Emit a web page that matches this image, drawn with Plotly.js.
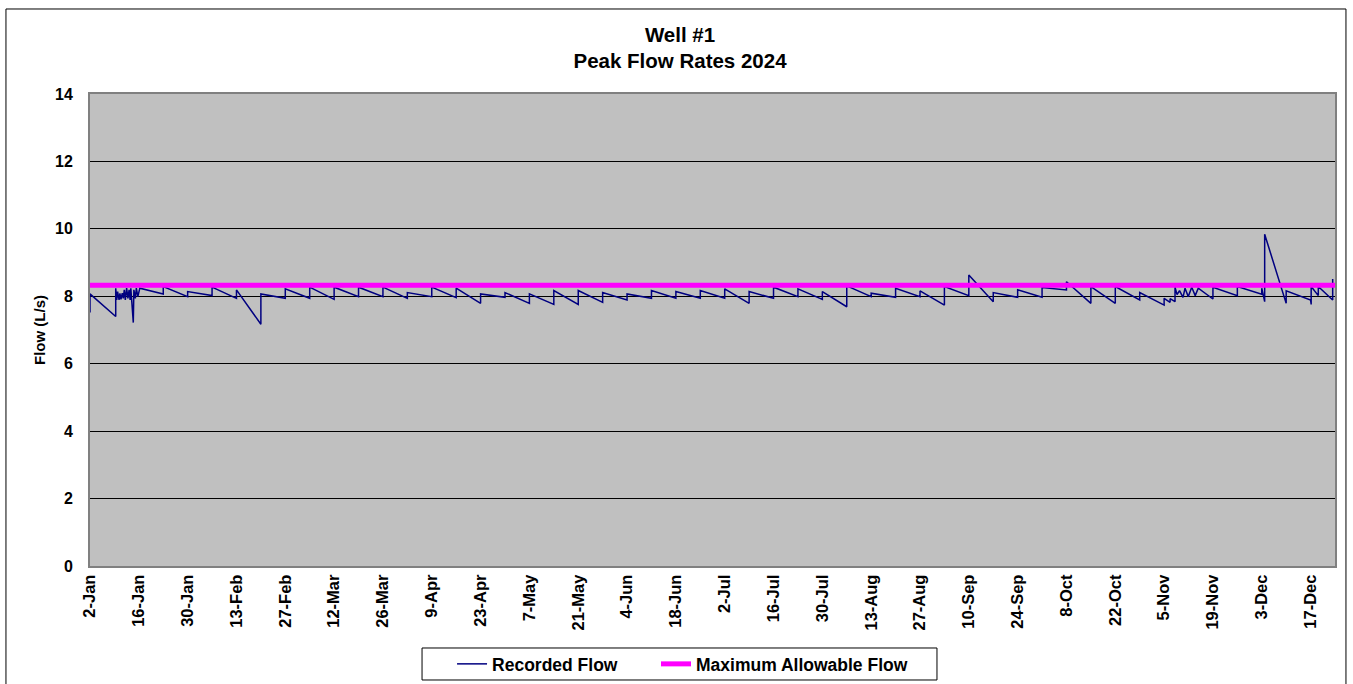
<!DOCTYPE html>
<html>
<head>
<meta charset="utf-8">
<script src="https://cdn.plot.ly/plotly-3.0.1.min.js"></script>
<style>
  html, body { margin: 0; padding: 0; background: #ffffff; }
  #chart { width: 1353px; height: 684px; }
</style>
</head>
<body>
<div id="chart"></div>
<script>
// ---- Data ----
const recordedDates = [
  '2024-01-02 00:00','2024-01-02 00:00',
  '2024-01-09 09:00','2024-01-09 09:00','2024-01-09 16:00','2024-01-09 22:00',
  '2024-01-10 08:00','2024-01-10 14:00','2024-01-10 21:00',
  '2024-01-11 06:00','2024-01-11 13:00','2024-01-11 20:00',
  '2024-01-12 03:00','2024-01-12 12:00','2024-01-12 21:00',
  '2024-01-13 05:00','2024-01-13 12:00','2024-01-13 17:00',
  '2024-01-14 10:00','2024-01-14 14:00',
  '2024-01-15 00:00','2024-01-15 07:00','2024-01-15 17:00',
  '2024-01-16 00:00','2024-01-16 07:00',
  '2024-01-23','2024-01-23','2024-01-30','2024-01-30',
  '2024-02-06','2024-02-06','2024-02-13','2024-02-13','2024-02-20','2024-02-20','2024-02-27','2024-02-27',
  '2024-03-05','2024-03-05','2024-03-12','2024-03-12','2024-03-19','2024-03-19','2024-03-26','2024-03-26',
  '2024-04-02','2024-04-02','2024-04-09','2024-04-09','2024-04-16','2024-04-16','2024-04-23','2024-04-23','2024-04-30','2024-04-30',
  '2024-05-07','2024-05-07','2024-05-14','2024-05-14','2024-05-21','2024-05-21','2024-05-28','2024-05-28',
  '2024-06-04','2024-06-04','2024-06-11','2024-06-11','2024-06-18','2024-06-18','2024-06-25','2024-06-25',
  '2024-07-02','2024-07-02','2024-07-09','2024-07-09','2024-07-16','2024-07-16','2024-07-23','2024-07-23','2024-07-30','2024-07-30',
  '2024-08-06','2024-08-06','2024-08-13','2024-08-13','2024-08-20','2024-08-20','2024-08-27','2024-08-27',
  '2024-09-03','2024-09-03','2024-09-10','2024-09-10','2024-09-17','2024-09-17','2024-09-24','2024-09-24',
  '2024-10-01','2024-10-01','2024-10-08','2024-10-08','2024-10-15','2024-10-15','2024-10-22','2024-10-22','2024-10-29','2024-10-29',
  '2024-11-05','2024-11-05','2024-11-06 17:00','2024-11-06 17:00','2024-11-08 03:00','2024-11-08 03:00',
  '2024-11-08 17:00','2024-11-09 10:00','2024-11-10 10:00','2024-11-11 00:00','2024-11-11 22:00',
  '2024-11-12 22:00','2024-11-13 22:00','2024-11-14 19:00',
  '2024-11-19','2024-11-19','2024-11-26','2024-11-26',
  '2024-12-03 00:00','2024-12-03 00:00','2024-12-03 20:00','2024-12-03 20:00',
  '2024-12-10','2024-12-10','2024-12-17 00:00','2024-12-17 00:00','2024-12-17 04:00','2024-12-17 04:00',
  '2024-12-19 05:00','2024-12-19 05:00','2024-12-23 08:00','2024-12-23 08:00'
];
const recordedFlow = [
  7.52, 8.07,
  7.40, 8.24, 7.89, 8.14,
  7.89, 8.09, 7.91,
  8.09, 7.94, 8.19,
  7.89, 8.24, 7.94,
  8.19, 7.89, 8.24,
  7.22, 8.19,
  7.94, 8.24, 7.99,
  8.09, 8.24,
  8.07, 8.29, 7.99, 8.14,
  8.02, 8.27, 7.94, 8.19, 7.17, 8.07, 7.94, 8.22,
  7.94, 8.27, 7.91, 8.27, 7.99, 8.27, 7.99, 8.27,
  7.94, 8.11, 7.99, 8.27, 7.96, 8.24, 7.79, 8.07, 7.97, 8.11,
  7.79, 8.07, 7.76, 8.17, 7.76, 8.17, 7.82, 8.11,
  7.89, 8.07, 7.94, 8.17, 7.94, 8.14, 7.94, 8.17,
  7.94, 8.22, 7.79, 8.14, 7.94, 8.27, 7.99, 8.22, 7.91, 8.14,
  7.69, 8.31, 7.99, 8.09, 7.97, 8.24, 7.99, 8.16,
  7.74, 8.29, 8.02, 8.63, 7.84, 8.11, 7.97, 8.19,
  7.97, 8.26, 8.19, 8.43, 7.79, 8.29, 7.79, 8.29, 7.89, 8.11,
  7.74, 7.94, 7.82, 7.93, 7.84, 8.27,
  8.05, 8.17, 7.97, 8.24, 7.99,
  8.27, 8.02, 8.24,
  7.92, 8.27, 8.02, 8.29,
  8.06, 8.24, 7.84, 9.84,
  7.79, 8.16, 7.89, 8.19, 7.76, 8.29,
  8.02, 8.29, 7.89, 8.51
];
const maxDates = ['2024-01-02', '2024-12-24'];
const maxFlow = [8.33, 8.33];

const tickDates = ['2024-01-02','2024-01-16','2024-01-30','2024-02-13','2024-02-27','2024-03-12','2024-03-26',
  '2024-04-09','2024-04-23','2024-05-07','2024-05-21','2024-06-04','2024-06-18','2024-07-02','2024-07-16',
  '2024-07-30','2024-08-13','2024-08-27','2024-09-10','2024-09-24','2024-10-08','2024-10-22','2024-11-05',
  '2024-11-19','2024-12-03','2024-12-17'];
const tickLabels = ['2-Jan','16-Jan','30-Jan','13-Feb','27-Feb','12-Mar','26-Mar','9-Apr','23-Apr','7-May',
  '21-May','4-Jun','18-Jun','2-Jul','16-Jul','30-Jul','13-Aug','27-Aug','10-Sep','24-Sep','8-Oct','22-Oct',
  '5-Nov','19-Nov','3-Dec','17-Dec'];
const yTicks = [0, 2, 4, 6, 8, 10, 12, 14];

const FONT = 'Liberation Sans, Arial, sans-serif';

const traces = [
  {
    x: recordedDates, y: recordedFlow, type: 'scatter', mode: 'lines',
    name: 'Recorded Flow', legend: 'legend',
    line: { color: '#000080', width: 1.5 }
  },
  {
    x: maxDates, y: maxFlow, type: 'scatter', mode: 'lines',
    name: 'Maximum Allowable Flow', legend: 'legend2',
    line: { color: '#FF00FF', width: 5 }
  }
];

const legendCommon = {
  orientation: 'h',
  xanchor: 'left',
  y: -0.2076, yanchor: 'middle',
  bgcolor: 'rgba(0,0,0,0)', borderwidth: 0,
  font: { family: FONT, size: 17.5, color: '#000', weight: 'bold' },
  itemwidth: 30
};

const layout = {
  width: 1353, height: 684,
  margin: { l: 90, r: 18, t: 94, b: 118, autoexpand: false },
  paper_bgcolor: '#ffffff',
  plot_bgcolor: '#C0C0C0',
  showlegend: true,
  title: {
    text: 'Well #1<br>Peak Flow Rates 2024',
    font: { family: FONT, size: 20.5, color: '#000', weight: 'bold' },
    x: 0.5026, xref: 'container', xanchor: 'center',
    y: 0.939, yref: 'container', yanchor: 'top'
  },
  xaxis: {
    type: 'date',
    range: ['2024-01-02', '2024-12-24'],
    tickvals: tickDates, ticktext: tickLabels,
    tickangle: -90,
    tickfont: { family: FONT, size: 16.5, color: '#000', weight: 'bold' },
    ticks: '', ticklen: 0,
    showgrid: false, zeroline: false,
    showline: true, mirror: true, linecolor: '#808080', linewidth: 2
  },
  yaxis: {
    range: [0, 14],
    tickvals: yTicks,
    tickfont: { family: FONT, size: 16, color: '#000', weight: 'bold' },
    ticks: 'outside', ticklen: 12, tickcolor: 'rgba(0,0,0,0)',
    showgrid: true, gridcolor: '#000000', gridwidth: 1,
    zeroline: false,
    showline: true, mirror: true, linecolor: '#808080', linewidth: 2,
    title: {
      text: 'Flow (L/s)',
      font: { family: FONT, size: 15, color: '#000', weight: 'bold' },
      standoff: 6
    }
  },
  legend: Object.assign({}, legendCommon, { x: 0.2908 }),
  legend2: Object.assign({}, legendCommon, { x: 0.4546 }),
  shapes: [
    {
      type: 'rect', xref: 'paper', yref: 'paper',
      x0: -0.0675, x1: 1.0088, y0: -0.27, y1: 1.1801,
      line: { color: '#000000', width: 1 }, fillcolor: 'rgba(0,0,0,0)', layer: 'below'
    },
    {
      type: 'rect', xref: 'paper', yref: 'paper',
      x0: 0.2667, x1: 0.6803, y0: -0.2415, y1: -0.1737,
      line: { color: '#000000', width: 1 }, fillcolor: '#ffffff', layer: 'below'
    }
  ]
};

Plotly.newPlot('chart', traces, layout, { displayModeBar: false, staticPlot: true });
</script>
</body>
</html>
